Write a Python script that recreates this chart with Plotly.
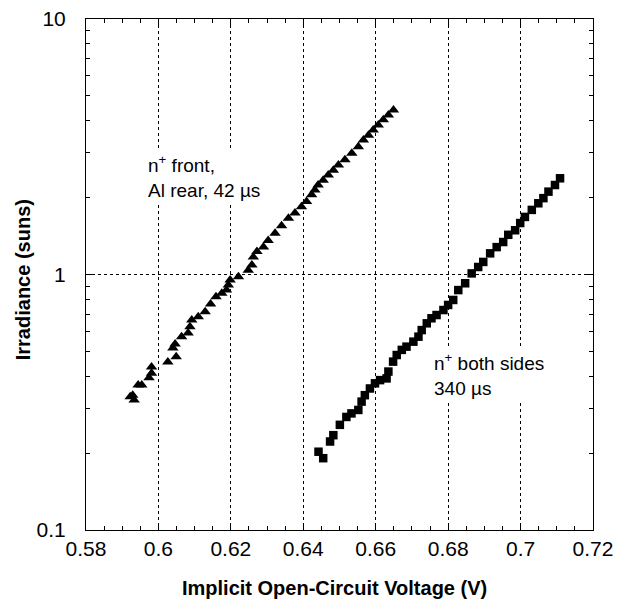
import plotly.graph_objects as go

# n+ front, Al rear (triangles)
tri_v = [0.5922, 0.5929, 0.5933, 0.5944, 0.5954, 0.5974, 0.5981, 0.5981, 0.6026, 0.6049,
         0.6040, 0.6046, 0.6064, 0.6082, 0.6087, 0.6092, 0.6110, 0.6129, 0.6144, 0.6159,
         0.6175, 0.6188, 0.6193, 0.6198, 0.6221, 0.6248, 0.6258, 0.6262, 0.6272, 0.6290,
         0.6303, 0.6322, 0.6340, 0.6359, 0.6377, 0.6395, 0.6409, 0.6423, 0.6432, 0.6441,
         0.6455, 0.6469, 0.6483, 0.6497, 0.6515, 0.6534, 0.6552, 0.6566, 0.6580, 0.6593,
         0.6607, 0.6621, 0.6635, 0.6649]
tri_suns = [0.332, 0.337, 0.323, 0.369, 0.369, 0.394, 0.411, 0.434, 0.455, 0.476,
            0.516, 0.535, 0.571, 0.590, 0.625, 0.664, 0.684, 0.715, 0.767, 0.819,
            0.844, 0.870, 0.910, 0.952, 0.980, 1.04, 1.09, 1.17, 1.23, 1.28,
            1.36, 1.45, 1.55, 1.66, 1.74, 1.84, 1.93, 2.05, 2.14, 2.24,
            2.34, 2.45, 2.56, 2.68, 2.81, 2.98, 3.16, 3.36, 3.51, 3.68,
            3.85, 4.03, 4.21, 4.40]

# n+ both sides (squares)
sq_v = [0.6442, 0.6455, 0.6474, 0.6483, 0.6501, 0.6519, 0.6533, 0.6552, 0.6561, 0.6570,
        0.6584, 0.6598, 0.6612, 0.6630, 0.6635, 0.6648, 0.6658, 0.6672, 0.6685, 0.6704,
        0.6718, 0.6727, 0.6741, 0.6754, 0.6768, 0.6787, 0.6800, 0.6814, 0.6828, 0.6847,
        0.6865, 0.6883, 0.6897, 0.6916, 0.6934, 0.6952, 0.6966, 0.6985, 0.6999, 0.7012,
        0.7031, 0.7049, 0.7063, 0.7077, 0.7095, 0.7109]
sq_suns = [0.2025, 0.191, 0.222, 0.235, 0.258, 0.277, 0.286, 0.295, 0.318, 0.337,
           0.358, 0.375, 0.386, 0.392, 0.417, 0.456, 0.484, 0.507, 0.522, 0.546,
           0.571, 0.606, 0.644, 0.674, 0.694, 0.726, 0.760, 0.795, 0.869, 0.924,
           1.01, 1.07, 1.12, 1.21, 1.28, 1.34, 1.43, 1.49, 1.59, 1.68,
           1.79, 1.90, 1.99, 2.11, 2.24, 2.38]

x_ticks = [0.58, 0.60, 0.62, 0.64, 0.66, 0.68, 0.70, 0.72]
x_tick_labels = ["0.58", "0.6", "0.62", "0.64", "0.66", "0.68", "0.7", "0.72"]
y_ticks = [0.1, 1, 10]
y_tick_labels = ["0.1", "1", "10"]
y_minor = [0.2, 0.3, 0.4, 0.5, 0.6, 0.7, 0.8, 0.9, 2, 3, 4, 5, 6, 7, 8, 9]

x_title = "<b>Implicit Open-Circuit Voltage (V)</b>"
y_title = "<b>Irradiance (suns)</b>"
label_front = "n<sup>+</sup> front,<br>Al rear, 42 µs"
label_both = "n<sup>+</sup> both sides<br>340 µs"

FONT = "Liberation Sans, Arial, Helvetica, sans-serif"

fig = go.Figure()
fig.add_trace(go.Scatter(x=tri_v, y=tri_suns, mode="markers",
                         marker=dict(symbol="triangle-up", size=10, color="black"),
                         showlegend=False))
fig.add_trace(go.Scatter(x=sq_v, y=sq_suns, mode="markers",
                         marker=dict(symbol="square", size=8.5, color="black"),
                         showlegend=False))

axis_common = dict(
    showline=True, linecolor="black", linewidth=1, mirror="ticks",
    ticks="inside", ticklen=6, tickcolor="black",
    showgrid=True, gridcolor="black", gridwidth=1, griddash="dot",
    zeroline=False, automargin=False,
    tickfont=dict(family=FONT, size=21, color="black"),
)

fig.update_xaxes(
    **axis_common,
    range=[0.58, 0.72], tickmode="array", tickvals=x_ticks, ticktext=x_tick_labels,
    minor=dict(ticks="inside", ticklen=4, tickcolor="black", dtick=0.005, tick0=0.58, showgrid=False),
)
fig.update_yaxes(
    **axis_common,
    type="log", range=[-1, 1], tickmode="array", tickvals=y_ticks, ticktext=y_tick_labels,
    minor=dict(ticks="inside", ticklen=4, tickcolor="black", tickmode="array",
               tickvals=y_minor, showgrid=False),
    ticklabelstandoff=15,
)

# axis titles
fig.add_annotation(x=0.49, y=-0.1135, xref="paper", yref="paper",
                   xanchor="center", yanchor="middle", showarrow=False,
                   text=x_title, font=dict(family=FONT, size=20, color="black"))
fig.add_annotation(x=-0.124, y=0.489, xref="paper", yref="paper",
                   xanchor="center", yanchor="middle", showarrow=False, textangle=-90,
                   text=y_title, font=dict(family=FONT, size=20, color="black"))

# in-plot labels
fig.add_annotation(x=0.5962, y=0.385, xref="x", yref="y", yanchor="middle",
                   text=label_front, showarrow=False, xanchor="left", align="left",
                   bgcolor="white", borderpad=2,
                   font=dict(family=FONT, size=19, color="black"))
fig.add_annotation(x=0.6753, y=-0.393, xref="x", yref="y", yanchor="middle",
                   text=label_both, showarrow=False, xanchor="left", align="left",
                   bgcolor="white", borderpad=2,
                   font=dict(family=FONT, size=19, color="black"))

fig.update_layout(
    width=618, height=606,
    margin=dict(l=86, r=25, t=19, b=76),
    paper_bgcolor="white", plot_bgcolor="white",
    font=dict(family=FONT, color="black"),
)

fig.write_html("out.html", config={"displayModeBar": False},
               post_script="document.body.style.margin='0px';")
